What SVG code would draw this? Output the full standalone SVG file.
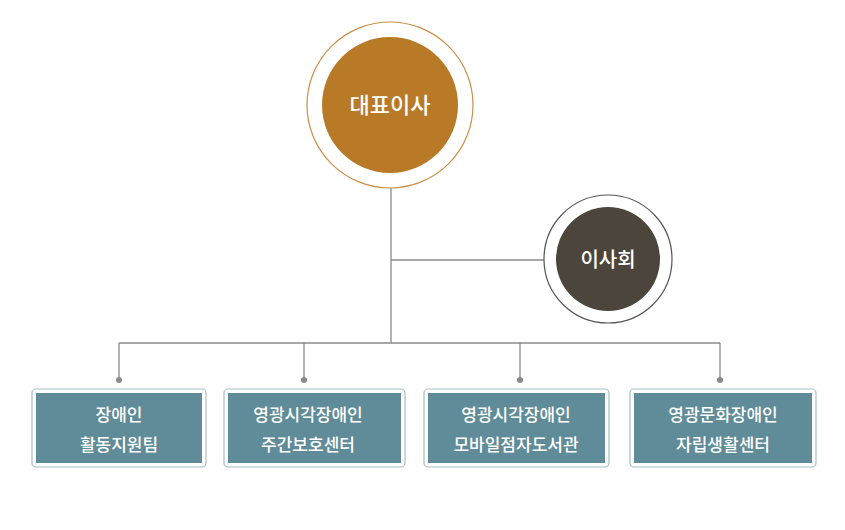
<svg xmlns="http://www.w3.org/2000/svg" width="845" height="530" viewBox="0 0 845 530">
<style>
.ln{stroke:#8a8a8a;stroke-width:1.3;fill:none}
.dot{fill:#8a8a8a}
.bo{fill:#fff;stroke:#a9bfc3;stroke-width:1.2}
.bi{fill:#5f8c98}
.t{font-family:"Noto Sans CJK KR","Noto Sans",sans-serif;fill:#fff;text-anchor:middle;font-weight:500}
.bt{font-size:17px}
</style>
<rect width="845" height="530" fill="#fff"/>
<g id="connectors">
<path class="ln" d="M391 188V343M391 260H545M119 343H720M119 343V378M304 343V378M520 343V378M720 343V378"/>
<circle class="dot" cx="119" cy="380" r="3"/><circle class="dot" cx="304" cy="380" r="3"/><circle class="dot" cx="520" cy="380" r="3"/><circle class="dot" cx="720" cy="380" r="3"/>
</g>
<g id="ceo">
<circle cx="390" cy="105" r="83" fill="#fff" stroke="#c99048" stroke-width="1.2"/>
<circle cx="390" cy="105" r="68" fill="#b97a28"/>
<text class="t" x="390" y="113" font-size="22">대표이사</text>
</g>
<g id="board">
<circle cx="608" cy="259" r="64" fill="#fff" stroke="#555" stroke-width="1.2"/>
<circle cx="608" cy="259" r="52" fill="#4b453c"/>
<text class="t" x="608" y="267" font-size="20">이사회</text>
</g>
<g id="n1"><rect class="bo" x="32" y="389" width="174" height="78" rx="4"/><rect class="bi" x="36" y="393" width="166" height="70"/>
<text class="t bt" x="119" y="421">장애인</text><text class="t bt" x="119" y="451">활동지원팀</text></g>
<g id="n2"><rect class="bo" x="224" y="389" width="181" height="78" rx="4"/><rect class="bi" x="228" y="393" width="173" height="70"/>
<text class="t bt" x="308" y="421">영광시각장애인</text><text class="t bt" x="308" y="451">주간보호센터</text></g>
<g id="n3"><rect class="bo" x="424" y="389" width="185" height="78" rx="4"/><rect class="bi" x="428" y="393" width="177" height="70"/>
<text class="t bt" x="516" y="421">영광시각장애인</text><text class="t bt" x="516" y="451">모바일점자도서관</text></g>
<g id="n4"><rect class="bo" x="630" y="389" width="186" height="78" rx="4"/><rect class="bi" x="634" y="393" width="178" height="70"/>
<text class="t bt" x="723" y="421">영광문화장애인</text><text class="t bt" x="723" y="451">자립생활센터</text></g>
</svg>
